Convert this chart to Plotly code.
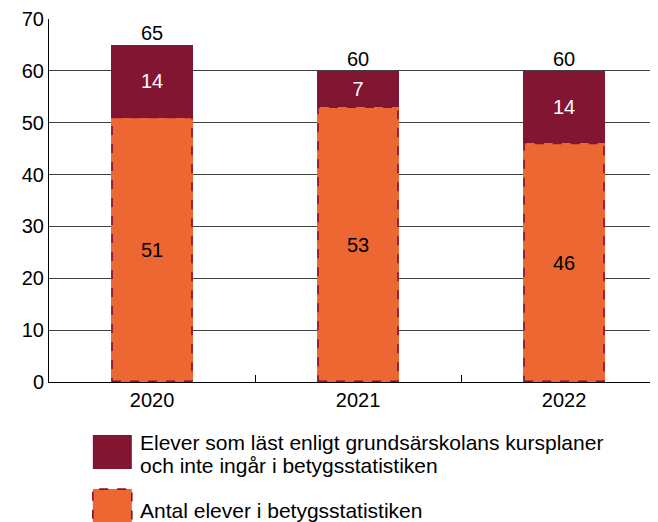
import plotly.graph_objects as go

years = ["2020", "2021", "2022"]
antal = [51, 53, 46]
ej_ingar = [14, 7, 14]
totals = [65, 60, 60]

legend_lines_1 = [
    "Elever som läst enligt grundsärskolans kursplaner",
    "och inte ingår i betygsstatistiken",
]
legend_lines_2 = ["Antal elever i betygsstatistiken"]

ORANGE = "#EC6731"
DARKRED = "#821531"
FONT = "Liberation Sans, Arial, sans-serif"
BAR_W = 0.4

fig = go.Figure()

fig.add_trace(go.Bar(
    x=years, y=antal, name=legend_lines_2[0],
    marker=dict(color=ORANGE, line=dict(width=0)),
    width=BAR_W,
    text=antal, textposition="inside", insidetextanchor="middle",
    textangle=0, constraintext="none",
    textfont=dict(color="black", size=20, family=FONT),
))
fig.add_trace(go.Bar(
    x=years, y=ej_ingar, name=legend_lines_1[0],
    marker=dict(color=DARKRED, line=dict(width=0)),
    width=BAR_W,
    text=ej_ingar, textposition="inside", insidetextanchor="middle",
    textangle=0, constraintext="none",
    textfont=dict(color="white", size=20, family=FONT),
))

# summa ovanför staplarna
fig.add_trace(go.Scatter(
    x=years, y=totals, mode="text", text=[str(t) for t in totals],
    textposition="top center",
    textfont=dict(color="black", size=20, family=FONT),
    showlegend=False, hoverinfo="skip",
))

# streckad kant runt de orange staplarna
for i, v in enumerate(antal):
    fig.add_shape(
        type="rect", xref="x", yref="y",
        x0=i - BAR_W / 2 + 0.006, x1=i + BAR_W / 2 - 0.006,
        y0=0.15, y1=v,
        line=dict(color=DARKRED, width=1.6, dash="dash"),
        fillcolor="rgba(0,0,0,0)", layer="above",
    )

# egen teckenförklaring
fig.add_shape(
    type="rect", xref="paper", yref="paper",
    x0=0.072, x1=0.136, y0=-0.240, y1=-0.146,
    fillcolor=DARKRED, line=dict(width=0),
)
fig.add_shape(
    type="rect", xref="paper", yref="paper",
    x0=0.072, x1=0.136, y0=-0.42, y1=-0.295,
    fillcolor=ORANGE, line=dict(color=DARKRED, width=1.6, dash="dash"),
)
for txt, yy in zip(legend_lines_1 + legend_lines_2, [-0.168, -0.231, -0.353]):
    fig.add_annotation(
        xref="paper", yref="paper", x=0.146, y=yy,
        text=txt, showarrow=False, xanchor="left", yanchor="middle",
        align="left", font=dict(size=21, color="black", family=FONT),
    )

fig.update_layout(
    barmode="stack",
    width=650, height=514,
    margin=dict(l=41, r=0, t=11, b=140),
    plot_bgcolor="white", paper_bgcolor="white",
    showlegend=False,
    font=dict(family=FONT, size=20, color="black"),
)
fig.update_xaxes(
    type="category", range=[-0.5, 2.456],
    showline=True, linecolor="black", linewidth=1,
    ticks="inside", tickson="boundaries", ticklen=7, tickcolor="black",
    showgrid=False, tickfont=dict(size=20),
)
fig.update_yaxes(
    range=[0, 70], dtick=10, showline=True, linecolor="black", linewidth=1,
    showgrid=True, gridcolor="#404040", gridwidth=1,
    zeroline=False, ticks="", tickfont=dict(size=20),
)

fig.write_html("out.html")
